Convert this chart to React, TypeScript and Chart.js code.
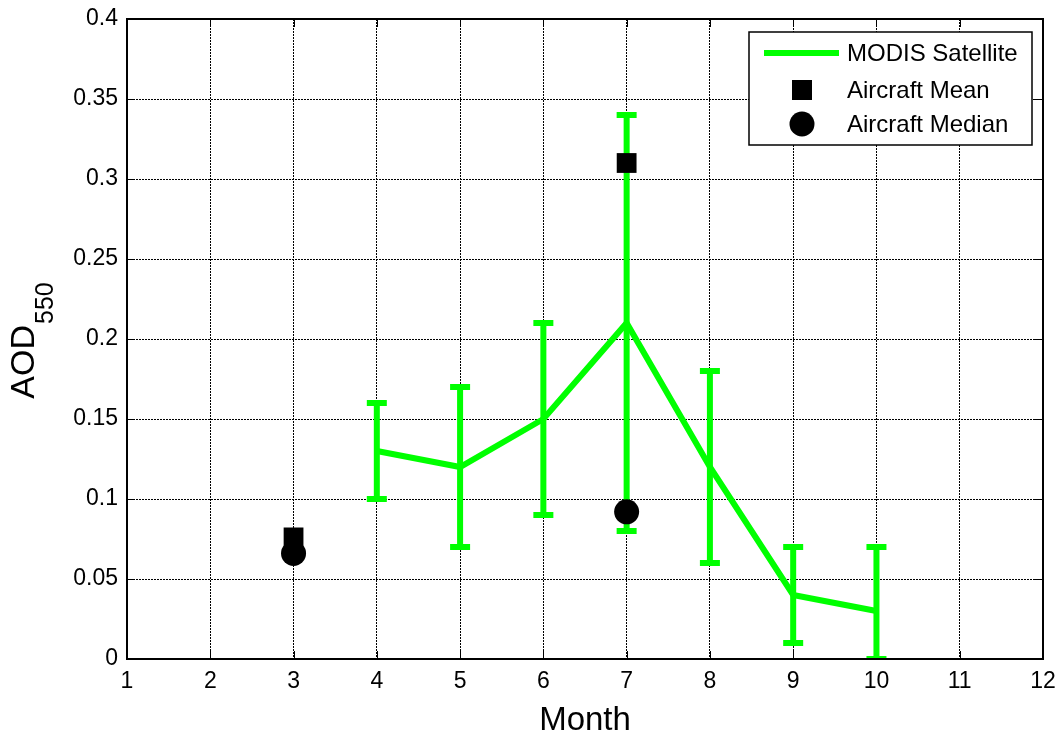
import React, { useEffect, useRef } from "react";
import { Chart, registerables } from "chart.js";

Chart.register(...registerables);

const FONT = "'Liberation Sans', Arial, Helvetica, sans-serif";

// MODIS satellite monthly AOD with error bars
const modisMonths = [4, 5, 6, 7, 8, 9, 10];
const modisValues = [0.13, 0.12, 0.15, 0.21, 0.12, 0.04, 0.03];
const modisLow = [0.1, 0.07, 0.09, 0.08, 0.06, 0.01, 0.0];
const modisHigh = [0.16, 0.17, 0.21, 0.34, 0.18, 0.07, 0.07];

// Aircraft measurements
const aircraftMonths = [3, 7];
const aircraftMean = [0.076, 0.31];
const aircraftMedian = [0.066, 0.092];

// Axes
const xMin = 1;
const xMax = 12;
const yMin = 0;
const yMax = 0.4;
const yStep = 0.05;

const seriesLabels = ["MODIS Satellite", "Aircraft Mean", "Aircraft Median"];
const xTitle = "Month";
const yTitleMain = "AOD";
const yTitleSub = "550";

const GREEN = "#00ff00";

const errorBarPlugin = {
  id: "errorBars",
  afterDatasetDraw(chart: any, args: any) {
    if (args.index !== 0) return;
    const { ctx, chartArea, scales } = chart;
    const xs = scales.x;
    const ys = scales.y;
    ctx.save();
    ctx.beginPath();
    ctx.rect(chartArea.left, chartArea.top, chartArea.right - chartArea.left, chartArea.bottom - chartArea.top);
    ctx.clip();
    ctx.strokeStyle = GREEN;
    ctx.lineWidth = 6;
    ctx.lineCap = "butt";
    modisMonths.forEach((m, i) => {
      const x = xs.getPixelForValue(m);
      const yl = ys.getPixelForValue(modisLow[i]);
      const yh = ys.getPixelForValue(modisHigh[i]);
      ctx.beginPath();
      ctx.moveTo(x, yl);
      ctx.lineTo(x, yh);
      ctx.moveTo(x - 10, yl);
      ctx.lineTo(x + 10, yl);
      ctx.moveTo(x - 10, yh);
      ctx.lineTo(x + 10, yh);
      ctx.stroke();
    });
    ctx.restore();
  },
};

const framePlugin = {
  id: "frame",
  beforeDatasetsDraw(chart: any) {
    const { ctx, chartArea, scales } = chart;
    const { left, right, top, bottom } = chartArea;
    ctx.save();
    ctx.strokeStyle = "#000";
    ctx.lineWidth = 1;
    const tl = 8;
    scales.x.ticks.forEach((t: any) => {
      const x = Math.round(scales.x.getPixelForValue(t.value)) + 0.5;
      ctx.beginPath();
      ctx.moveTo(x, bottom);
      ctx.lineTo(x, bottom - tl);
      ctx.moveTo(x, top);
      ctx.lineTo(x, top + tl);
      ctx.stroke();
    });
    scales.y.ticks.forEach((t: any) => {
      const y = Math.round(scales.y.getPixelForValue(t.value)) + 0.5;
      ctx.beginPath();
      ctx.moveTo(left, y);
      ctx.lineTo(left + tl, y);
      ctx.moveTo(right, y);
      ctx.lineTo(right - tl, y);
      ctx.stroke();
    });
    ctx.restore();
  },
  afterDraw(chart: any) {
    const { ctx, chartArea } = chart;
    const { left, right, top, bottom } = chartArea;
    ctx.save();
    // axes box
    ctx.strokeStyle = "#000";
    ctx.lineWidth = 2;
    ctx.strokeRect(left, top, right - left, bottom - top);

    // x title
    ctx.fillStyle = "#000";
    ctx.font = `33px ${FONT}`;
    ctx.textAlign = "center";
    ctx.textBaseline = "alphabetic";
    ctx.fillText(xTitle, (left + right) / 2, 730);

    // y title with subscript
    ctx.save();
    ctx.translate(34, (top + bottom) / 2 + 2);
    ctx.rotate(-Math.PI / 2);
    ctx.textAlign = "left";
    ctx.font = `34px ${FONT}`;
    const wMain = ctx.measureText(yTitleMain).width;
    ctx.font = `25px ${FONT}`;
    const wSub = ctx.measureText(yTitleSub).width;
    const start = -(wMain + wSub) / 2;
    ctx.font = `34px ${FONT}`;
    ctx.fillText(yTitleMain, start, 0);
    ctx.font = `25px ${FONT}`;
    ctx.fillText(yTitleSub, start + wMain + 1, 19);
    ctx.restore();

    // legend
    const bx = 749, by = 32, bw = 283, bh = 113;
    ctx.fillStyle = "#fff";
    ctx.fillRect(bx, by, bw, bh);
    ctx.strokeStyle = "#000";
    ctx.lineWidth = 1.5;
    ctx.strokeRect(bx, by, bw, bh);
    const rows = [53, 90, 124];
    // line
    ctx.strokeStyle = GREEN;
    ctx.lineWidth = 6;
    ctx.beginPath();
    ctx.moveTo(764, rows[0]);
    ctx.lineTo(839, rows[0]);
    ctx.stroke();
    // square
    ctx.fillStyle = "#000";
    ctx.fillRect(802 - 10, rows[1] - 10, 20, 20);
    // circle
    ctx.beginPath();
    ctx.arc(802, rows[2], 12.5, 0, Math.PI * 2);
    ctx.fill();
    ctx.font = `24px ${FONT}`;
    ctx.textAlign = "left";
    ctx.textBaseline = "middle";
    seriesLabels.forEach((lab, i) => {
      ctx.fillText(lab, 847, rows[i] + 1);
    });
    ctx.restore();
  },
};

export default function App() {
  const ref = useRef<HTMLCanvasElement | null>(null);
  useEffect(() => {
    if (!ref.current) return;
    const chart = new Chart(ref.current, {
      type: "line",
      data: {
        datasets: [
          {
            label: seriesLabels[0],
            data: modisMonths.map((m, i) => ({ x: m, y: modisValues[i] })),
            borderColor: GREEN,
            backgroundColor: GREEN,
            borderWidth: 6,
            pointRadius: 0,
            tension: 0,
            order: 3,
          },
          {
            label: seriesLabels[1],
            data: aircraftMonths.map((m, i) => ({ x: m, y: aircraftMean[i] })),
            showLine: false,
            pointStyle: "rect",
            pointRadius: 14,
            backgroundColor: "#000",
            borderColor: "#000",
            borderWidth: 0,
            order: 2,
          },
          {
            label: seriesLabels[2],
            data: aircraftMonths.map((m, i) => ({ x: m, y: aircraftMedian[i] })),
            showLine: false,
            pointStyle: "circle",
            pointRadius: 12.5,
            backgroundColor: "#000",
            borderColor: "#000",
            borderWidth: 0,
            order: 1,
          },
        ],
      },
      options: {
        animation: false,
        responsive: false,
        maintainAspectRatio: false,
        layout: { padding: { top: 19, right: 16, left: 0, bottom: 0 } },
        plugins: {
          legend: { display: false },
          tooltip: { enabled: false },
        },
        scales: {
          x: {
            type: "linear",
            min: xMin,
            max: xMax,
            afterFit: (s: any) => {
              s.height = 74;
              s.paddingLeft = 0;
              s.paddingRight = 0;
              s.paddingTop = 0;
              s.paddingBottom = 0;
            },
            ticks: {
              stepSize: 1,
              color: "#000",
              font: { family: FONT, size: 23 },
              padding: 9,
              maxRotation: 0,
            },
            grid: {
              color: "#000",
              lineWidth: 1,
              drawTicks: false,
              tickLength: 0,
            },
            border: { display: false, dash: [2, 1] },
          },
          y: {
            type: "linear",
            min: yMin,
            max: yMax,
            afterFit: (s: any) => {
              s.width = 127;
              s.paddingLeft = 0;
              s.paddingRight = 0;
              s.paddingTop = 0;
              s.paddingBottom = 0;
            },
            ticks: {
              stepSize: yStep,
              color: "#000",
              font: { family: FONT, size: 23 },
              padding: 9,
              callback: (v: any) => String(parseFloat(Number(v).toFixed(2))),
            },
            grid: {
              color: "#000",
              lineWidth: 1,
              drawTicks: false,
              tickLength: 0,
            },
            border: { display: false, dash: [2, 1] },
          },
        },
      },
      plugins: [errorBarPlugin, framePlugin],
    } as any);
    return () => chart.destroy();
  }, []);
  return (
    <div style={{ position: "fixed", left: 0, top: 0, width: 1059, height: 733, background: "#fff" }}>
      <canvas ref={ref} width={1059} height={733} />
    </div>
  );
}
